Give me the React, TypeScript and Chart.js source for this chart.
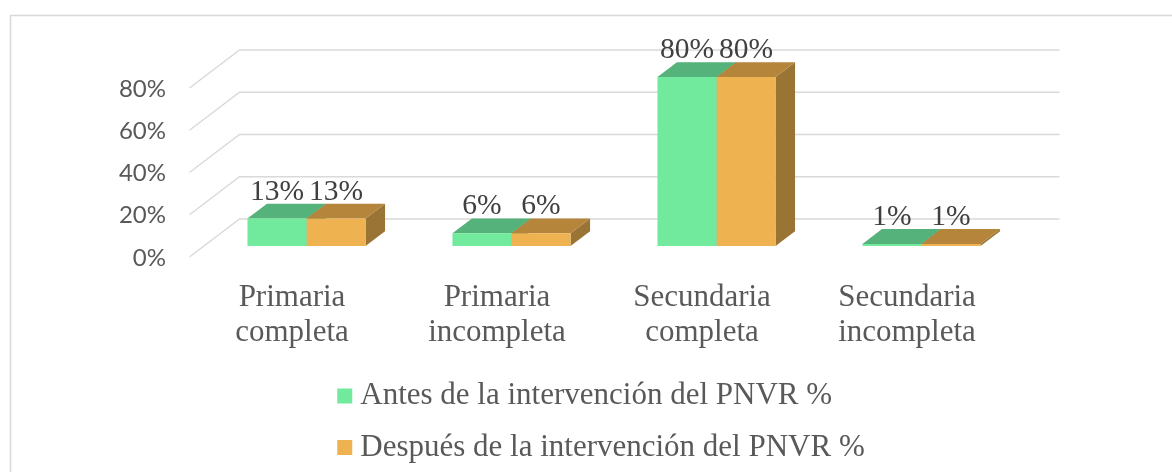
import React, { useEffect, useRef } from 'react';
import { Chart, registerables } from 'chart.js';

Chart.register(...registerables);

// ---- data ----
const categories: string[][] = [
  ['Primaria', 'completa'],
  ['Primaria', 'incompleta'],
  ['Secundaria', 'completa'],
  ['Secundaria', 'incompleta'],
];
const antes = [13, 6, 80, 1];
const despues = [13, 6, 80, 1];
const seriesLabels = [
  'Antes de la intervención del PNVR %',
  'Después de la intervención del PNVR %',
];
const yTicks = [0, 20, 40, 60, 80];

// ---- styles ----
const FRONT = ['#71EA9E', '#EEB350'];
const TOP = ['#55B27B', '#B5853B'];
const SIDE = ['#3F8A5C', '#9A7434'];
const DX = 19.5;
const DY = -14.8;
const BACK_DX = 35.5;
const BACK_DY = -27;
const FRONT_DX = -14.5;
const FRONT_DY = 11;
const GRID = '#D9D9D9';
const SERIF = '"Liberation Serif", "Times New Roman", serif';

const scenePlugin = {
  id: 'scene3d',
  beforeDraw(chart: any) {
    const ctx = chart.ctx;
    ctx.save();
    ctx.fillStyle = '#ffffff';
    ctx.fillRect(0, 0, chart.width, chart.height);
    ctx.strokeStyle = GRID;
    ctx.lineWidth = 1.5;
    ctx.beginPath();
    ctx.moveTo(10.5, chart.height);
    ctx.lineTo(10.5, 15.5);
    ctx.lineTo(chart.width, 15.5);
    ctx.stroke();
    ctx.restore();
  },
  beforeDatasetsDraw(chart: any) {
    const ctx = chart.ctx;
    const { left, right } = chart.chartArea;
    const y = chart.scales.y;
    ctx.save();
    ctx.strokeStyle = GRID;
    ctx.lineWidth = 1.4;
    yTicks.forEach((v) => {
      const py = y.getPixelForValue(v);
      ctx.beginPath();
      ctx.moveTo(left + FRONT_DX, py + FRONT_DY);
      ctx.lineTo(left + BACK_DX, py + BACK_DY);
      ctx.lineTo(right + BACK_DX, py + BACK_DY);
      ctx.stroke();
    });
    chart.data.datasets.forEach((ds: any, di: number) => {
      const meta = chart.getDatasetMeta(di);
      meta.data.forEach((bar: any) => {
        const p = bar.getProps(['x', 'y', 'base', 'width'], true);
        const l = p.x - p.width / 2;
        const r = p.x + p.width / 2;
        const t = p.y;
        const b = p.base;
        // side
        ctx.fillStyle = SIDE[di];
        ctx.beginPath();
        ctx.moveTo(r, t);
        ctx.lineTo(r + DX, t + DY);
        ctx.lineTo(r + DX, b + DY);
        ctx.lineTo(r, b);
        ctx.closePath();
        ctx.fill();
        // top
        ctx.fillStyle = TOP[di];
        ctx.beginPath();
        ctx.moveTo(l, t);
        ctx.lineTo(r, t);
        ctx.lineTo(r + DX, t + DY);
        ctx.lineTo(l + DX, t + DY);
        ctx.closePath();
        ctx.fill();
      });
    });
    ctx.restore();
  },
  afterDatasetsDraw(chart: any) {
    const ctx = chart.ctx;
    ctx.save();
    ctx.font = `29.5px ${SERIF}`;
    ctx.fillStyle = '#404040';
    ctx.textAlign = 'center';
    ctx.textBaseline = 'alphabetic';
    chart.data.datasets.forEach((ds: any, di: number) => {
      const meta = chart.getDatasetMeta(di);
      meta.data.forEach((bar: any, i: number) => {
        const p = bar.getProps(['x', 'y'], true);
        ctx.fillText(`${ds.data[i]}%`, p.x, p.y - 19);
      });
    });
    ctx.restore();
  },
  afterDraw(chart: any) {
    const ctx = chart.ctx;
    ctx.save();
    ctx.font = `31px ${SERIF}`;
    const widths = chart.data.datasets.map((ds: any) => ctx.measureText(ds.label).width);
    const maxW = Math.max(...widths);
    const box = 15;
    const gap = 8;
    const left = 601 - (box + gap + maxW) / 2;
    const rows = [396, 447.5];
    chart.data.datasets.forEach((ds: any, di: number) => {
      const cy = rows[di];
      ctx.fillStyle = FRONT[di];
      ctx.fillRect(left, cy - box / 2, box, box);
      ctx.fillStyle = '#595959';
      ctx.textAlign = 'left';
      ctx.textBaseline = 'middle';
      ctx.fillText(ds.label, left + box + gap, cy);
    });
    ctx.restore();
  },
};

export default function App() {
  const ref = useRef<HTMLCanvasElement | null>(null);
  useEffect(() => {
    if (!ref.current) return;
    const chart = new Chart(ref.current, {
      type: 'bar',
      data: {
        labels: categories as any,
        datasets: [
          { label: seriesLabels[0], data: antes, backgroundColor: FRONT[0] },
          { label: seriesLabels[1], data: despues, backgroundColor: FRONT[1] },
        ],
      },
      options: {
        animation: false,
        responsive: false,
        devicePixelRatio: 1,
        layout: { padding: { left: 0, right: 148, top: 77, bottom: 0 } },
        datasets: { bar: { categoryPercentage: 0.576, barPercentage: 1, borderWidth: 0 } },
        plugins: { legend: { display: false }, tooltip: { enabled: false }, title: { display: false } },
        scales: {
          x: {
            grid: { display: false, drawTicks: false },
            border: { display: false },
            ticks: {
              color: '#595959',
              font: { family: SERIF, size: 31, lineHeight: 1.13 },
              padding: 34,
              labelOffset: FRONT_DX,
              maxRotation: 0,
              autoSkip: false,
            },
            afterFit: (s: any) => { s.height = 226; },
          },
          y: {
            min: 0,
            max: 80,
            grid: { display: false, drawTicks: false },
            border: { display: false },
            afterBuildTicks: (s: any) => { s.ticks = yTicks.map((v) => ({ value: v })); },
            ticks: {
              color: '#595959',
              font: { family: 'Lato, "DejaVu Sans", sans-serif', size: 24 },
              padding: 38,
              labelOffset: 12,
              callback: (v: any) => `${v}%`,
            },
            afterFit: (s: any) => { s.width = 204; },
          },
        },
      },
      plugins: [scenePlugin],
    });
    return () => chart.destroy();
  }, []);
  return (
    <div style={{ position: 'fixed', left: 0, top: 0, width: 1172, height: 472, background: '#fff' }}>
      <canvas ref={ref} width={1172} height={472} style={{ display: 'block' }} />
    </div>
  );
}
